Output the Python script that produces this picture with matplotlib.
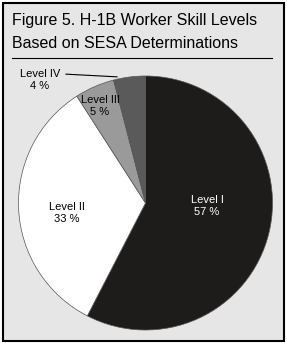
import matplotlib.pyplot as plt
from matplotlib.patches import Rectangle
from matplotlib.lines import Line2D

# Data
levels = ["Level I", "Level II", "Level III", "Level IV"]
shares = [57, 33, 5, 4]
colors = ["#1e1b1b", "#ffffff", "#9a9a9a", "#5a5a5a"]

W, H = 287, 343
fig = plt.figure(figsize=(W / 100, H / 100), dpi=100)
fig.patch.set_facecolor("white")

font = ["Liberation Sans Narrow", "Liberation Sans", "DejaVu Sans"]

# panel background and border (behind the pie axes)
fig.patches.append(Rectangle((2.5 / W, 2.5 / H), 281 / W, 338 / H, transform=fig.transFigure,
                             facecolor="#e6e6e6", edgecolor="black", linewidth=1.5, zorder=-5))

fig.text(12 / W, 1 - 21 / H, "Figure 5. H-1B Worker Skill Levels", fontsize=11.5,
         family=font, va="center", ha="left")
fig.text(12 / W, 1 - 43 / H, "Based on SESA Determinations", fontsize=11.5,
         family=font, va="center", ha="left")
fig.lines.append(Line2D([12 / W, 272 / W], [1 - 58 / H, 1 - 58 / H], transform=fig.transFigure,
                        color="black", linewidth=0.8))

# pie
r = 127
cx, cy = 145.5, H - 203
ax = fig.add_axes([(cx - r) / W, (cy - r) / H, 2 * r / W, 2 * r / H])
ax.patch.set_visible(False)
ax.pie(shares, colors=colors, startangle=90, counterclock=False,
       wedgeprops=dict(edgecolor="#555555", linewidth=0.5))
ax.set_xlim(-1, 1)
ax.set_ylim(-1, 1)
ax.set_aspect("equal")


def px(x, y):
    return ((x - cx) / r, (H - y - cy) / r)


ax.text(*px(207, 206), f"{levels[0]}\n{shares[0]} %", color="white", ha="center", va="center",
        fontsize=8, family=font, linespacing=1.3)
ax.text(*px(67, 213), f"{levels[1]}\n{shares[1]} %", color="black", ha="center", va="center",
        fontsize=8, family=font, linespacing=1.3)
ax.text(*px(100, 106), f"{levels[2]}\n{shares[2]} %", color="black", ha="center", va="center",
        fontsize=8, family=font, linespacing=1.3)
ax.text(*px(40, 80), f"{levels[3]}\n{shares[3]} %", color="black", ha="center", va="center",
        fontsize=8, family=font, linespacing=1.3)
ax.annotate("", xy=px(120, 77), xytext=px(63, 74),
            arrowprops=dict(arrowstyle="-", color="black", linewidth=0.8), annotation_clip=False)

fig.savefig("out.png", dpi=100)
